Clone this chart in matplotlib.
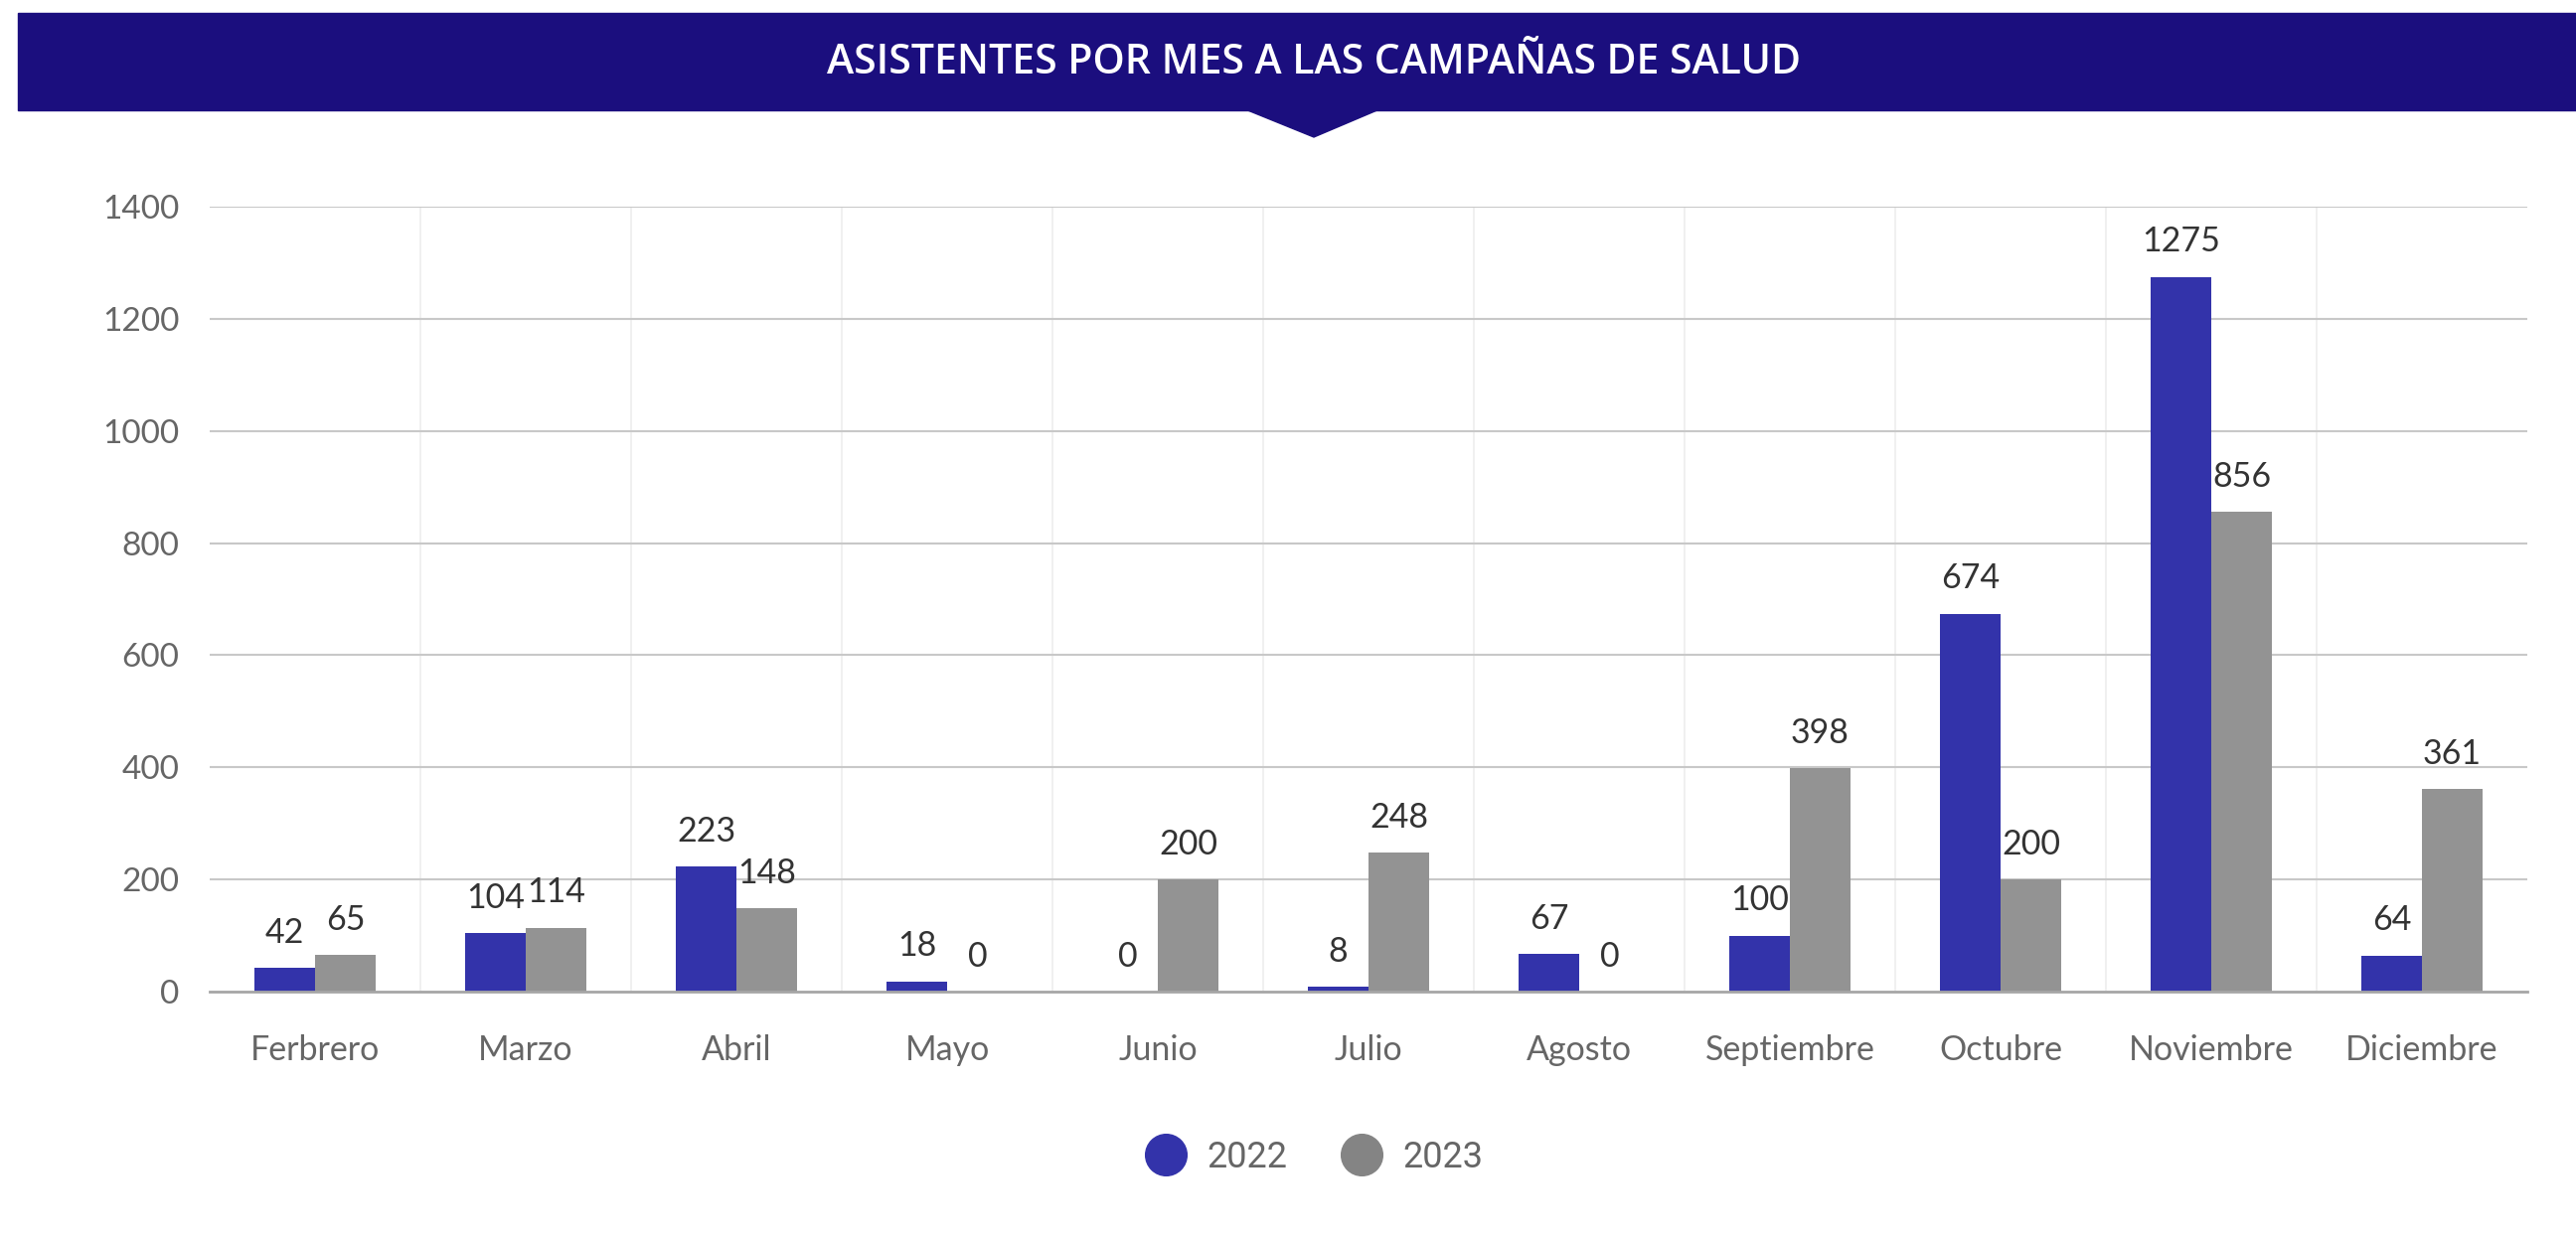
import matplotlib
matplotlib.use("Agg")
import matplotlib.pyplot as plt
import numpy as np
from matplotlib.patches import Rectangle, Polygon
from matplotlib.lines import Line2D

# data
meses = ["Ferbrero", "Marzo", "Abril", "Mayo", "Junio", "Julio", "Agosto",
         "Septiembre", "Octubre", "Noviembre", "Diciembre"]
v2022 = [42, 104, 223, 18, 0, 8, 67, 100, 674, 1275, 64]
v2023 = [65, 114, 148, 0, 200, 248, 0, 398, 200, 856, 361]
yticks = [0, 200, 400, 600, 800, 1000, 1200, 1400]

c2022 = "#3333aa"
c2023 = "#939393"
banner = "#1b0e7e"

fig = plt.figure(figsize=(25.92, 12.49), dpi=100)
W, H = 2592, 1249

# title banner with pointer
fig.patches.append(Rectangle((18 / W, 1 - 111 / H), 1 - 18 / W, 98 / H,
                             transform=fig.transFigure, color=banner, zorder=0))
fig.patches.append(Polygon([(1253 / W, 1 - 110 / H), (1388 / W, 1 - 110 / H),
                            (1322 / W, 1 - 138 / H)], closed=True,
                           transform=fig.transFigure, color=banner, zorder=0))
fig.text(1322 / W, 1 - 63 / H, "ASISTENTES POR MES A LAS CAMPAÑAS DE SALUD",
         color="white", fontsize=29.5, fontweight="semibold", family="Open Sans",
         ha="center", va="center")

ax = fig.add_axes([211 / W, 1 - 998 / H, 2332 / W, 790 / H])
x = np.arange(len(meses))
bw = 0.288
b1 = ax.bar(x - bw / 2, v2022, bw, color=c2022, zorder=3)
b2 = ax.bar(x + bw / 2, v2023, bw, color=c2023, zorder=3)

for bars in (b1, b2):
    ax.bar_label(bars, padding=14, fontsize=24.5, family="Lato", color="#333333")

ax.set_xlim(-0.5, len(meses) - 0.5)
ax.set_ylim(0, 1400)
ax.set_yticks(yticks)
ax.set_xticks(x)
ax.set_xticklabels(meses)
for sep in np.arange(0.5, len(meses) - 1, 1.0):
    ax.axvline(sep, color="#eeeeee", lw=1.2, zorder=1)
for yv in yticks[1:]:
    ax.axhline(yv, color="#c8c8c8", lw=1.5, zorder=1)

for s in ["top", "right", "left"]:
    ax.spines[s].set_visible(False)
ax.spines["bottom"].set_color("#a6a6a6")
ax.spines["bottom"].set_linewidth(2)
ax.spines["bottom"].set_zorder(4)
ax.tick_params(axis="both", length=0, labelcolor="#666666")
ax.tick_params(axis="y", pad=22, labelsize=24)
ax.tick_params(axis="x", pad=31, labelsize=24.5)
for lbl in ax.get_xticklabels() + ax.get_yticklabels():
    lbl.set_family("Lato")

handles = [Line2D([], [], marker="o", ls="", ms=30, color=c2022),
           Line2D([], [], marker="o", ls="", ms=30, color="#848484")]
fig.legend(handles, ["2022", "2023"], loc="center", ncol=2, frameon=False,
           bbox_to_anchor=(1322 / W, 1 - 1165 / H),
           prop={"family": "Roboto", "size": 26}, labelcolor="#666666",
           handletextpad=0.55, columnspacing=1.45, handlelength=1.2)

fig.savefig("out.png", dpi=100, facecolor="white")
